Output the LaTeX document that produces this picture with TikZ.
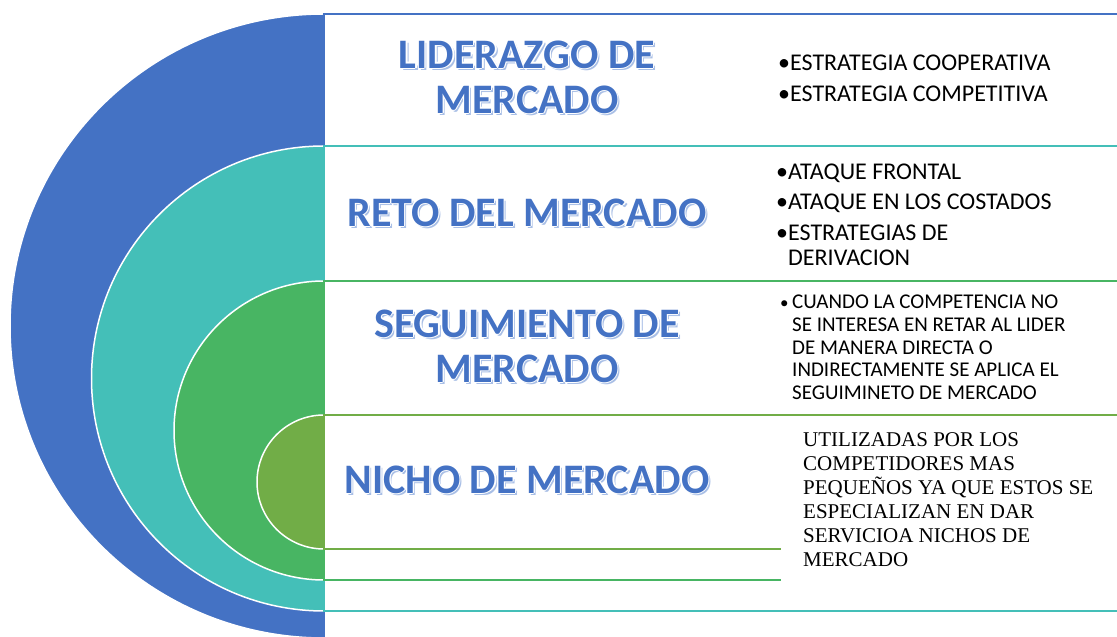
\documentclass[tikz,border=0pt]{standalone}
\usepackage{fontspec}
\setmainfont{Carlito}
\newfontfamily\nichoserif{Liberation Serif}
\definecolor{cblue}{HTML}{4472C4}
\definecolor{cteal}{HTML}{44BFB8}
\definecolor{cgreen}{HTML}{48B563}
\definecolor{colive}{HTML}{71AD47}
\definecolor{cshadow}{HTML}{A9BFE6}
\tikzset{
  arcband/.style={draw=white, line width=1.5pt},
  levelbox/.style={line width=1.6pt, fill=white},
  ttl/.style={font=\bfseries\fontsize{42}{45}\selectfont, align=center, inner sep=0pt},
  lst/.style={font=\fontsize{24}{30}\selectfont, anchor=base west, inner sep=0pt},
  lsts/.style={font=\fontsize{21}{23}\selectfont, anchor=base west, inner sep=0pt},
  lstn/.style={font=\nichoserif\fontsize{21}{24}\selectfont, anchor=base west, inner sep=0pt},
}
% one line of outlined, shadowed title text (layered copies in a single box)
\newcommand\lay[3]{\rlap{\kern#1pt\raisebox{#2pt}{#3}}}
\newcommand\fxline[1]{%
  \lay{2.2}{-2.2}{\textcolor{cshadow}{#1}}%
  \lay{1.2}{0}{\textcolor{white}{#1}}\lay{-1.2}{0}{\textcolor{white}{#1}}%
  \lay{0}{1.2}{\textcolor{white}{#1}}\lay{0}{-1.2}{\textcolor{white}{#1}}%
  \lay{0.85}{0.85}{\textcolor{white}{#1}}\lay{-0.85}{0.85}{\textcolor{white}{#1}}%
  \lay{0.85}{-0.85}{\textcolor{white}{#1}}\lay{-0.85}{-0.85}{\textcolor{white}{#1}}%
  \textcolor{cblue}{#1}}
\begin{document}
\begin{tikzpicture}[x=1pt,y=1pt]
\useasboundingbox (0,0) rectangle (1117,637);
\clip (0,0) rectangle (1117,637);
% nested half discs
\filldraw[arcband, fill=cblue] (324,623) arc[start angle=90, end angle=270, x radius=314pt, y radius=312pt] -- cycle;
\filldraw[arcband, fill=cteal] (324,491) arc[start angle=90, end angle=270, x radius=232.5pt, y radius=232.5pt] -- cycle;
\filldraw[arcband, fill=cgreen] (324,356) arc[start angle=90, end angle=270, x radius=150pt, y radius=149.5pt] -- cycle;
\filldraw[arcband, fill=colive] (324,222) arc[start angle=90, end angle=270, x radius=67pt, y radius=67pt] -- cycle;
% level boxes
\draw[levelbox, draw=cblue] (324,623) rectangle (1140,-10);
\draw[levelbox, draw=cteal] (324,491) rectangle (1140,26);
\draw[levelbox, draw=cgreen] (324,356) rectangle (1140,57);
\draw[levelbox, draw=colive] (324,222) rectangle (1140,88);
\fill[white] (781,219) rectangle (1140,30);
% titles
\node[ttl] (t1) at (527,559.5) {\fxline{LIDERAZGO DE}\\\fxline{MERCADO}};
\node[ttl] (t2) at (527,424) {\fxline{RETO DEL MERCADO}};
\node[ttl] (t3) at (527,290.5) {\fxline{SEGUIMIENTO DE}\\\fxline{MERCADO}};
\node[ttl] (t4) at (527,157) {\fxline{NICHO DE MERCADO}};
% list 1
\node[lst] (a1) at (778,566) {•ESTRATEGIA COOPERATIVA};
\node[lst] (a2) at (778,535) {•ESTRATEGIA COMPETITIVA};
% list 2
\node[lst] (b1) at (776,457) {•ATAQUE FRONTAL};
\node[lst] (b2) at (776,427) {•ATAQUE EN LOS COSTADOS};
\node[lst] (b3) at (776,396) {•ESTRATEGIAS DE};
\node[lst] (b4) at (788,371) {DERIVACION};
% list 3
\node[lsts, font=\fontsize{17}{20}\selectfont] (cb) at (780,328) {•};
\node[lsts] (c1) at (792,328) {CUANDO LA COMPETENCIA NO};
\node[lsts] (c2) at (792,305) {SE INTERESA EN RETAR AL LIDER};
\node[lsts] (c3) at (792,282) {DE MANERA DIRECTA O};
\node[lsts] (c4) at (792,260) {INDIRECTAMENTE SE APLICA EL};
\node[lsts] (c5) at (792,237) {SEGUIMINETO DE MERCADO};
% nicho text
\node[lstn] (d1) at (803,190) {UTILIZADAS POR LOS};
\node[lstn] (d2) at (803,166) {COMPETIDORES MAS};
\node[lstn] (d3) at (803,142) {PEQUEÑOS YA QUE ESTOS SE};
\node[lstn] (d4) at (803,118) {ESPECIALIZAN EN DAR};
\node[lstn] (d5) at (803,94) {SERVICIOA NICHOS DE};
\node[lstn] (d6) at (803,70) {MERCADO};
\end{tikzpicture}
\end{document}
